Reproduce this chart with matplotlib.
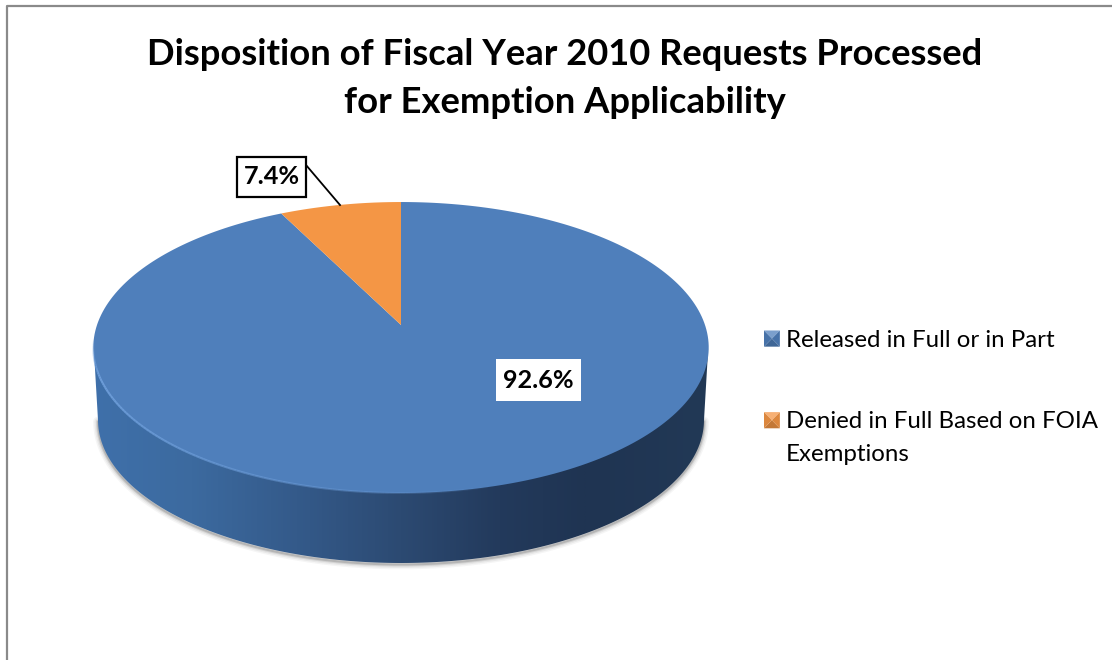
import numpy as np
import matplotlib
matplotlib.use("Agg")
import matplotlib.pyplot as plt
from matplotlib.colors import LinearSegmentedColormap
from matplotlib.collections import LineCollection
from matplotlib.legend_handler import HandlerBase
from matplotlib.patches import Patch, Polygon, Rectangle
from matplotlib.path import Path
from matplotlib.transforms import Affine2D, Transform

TITLE = "Disposition of Fiscal Year 2010 Requests Processed\nfor Exemption Applicability"
CATEGORIES = ["Released in Full or in Part", "Denied in Full Based on FOIA\nExemptions"]
VALUES = [92.6, 7.4]
COLORS = ["#4f7fbb", "#f49645"]

plt.rcParams["font.family"] = ["Lato", "DejaVu Sans"]

W, H = 1112, 660
CX, CY = 401.0, 325.0
K, A, B = 0.1547, 142.0, 304.0


class Perspective(Transform):
    """Tilted-disc projection: maps the unit pie circle to the drawn ellipse."""
    input_dims = output_dims = 2

    def transform_non_affine(self, values):
        v = np.asarray(values, float)
        d = 1 + K * v[:, 1]
        return np.column_stack((CX + B * v[:, 0] / d, CY - A * v[:, 1] / d))

    def transform_path_non_affine(self, path):
        # flatten the curves first so that the outline stays smooth after projection
        polys = path.to_polygons(transform=Affine2D().scale(1000), closed_only=True)
        flat = np.vstack(polys) / 1000.0
        return Path(self.transform_non_affine(flat), closed=True)


fig = plt.figure(figsize=(W / 100, H / 100), dpi=100, facecolor="white")
ax = fig.add_axes([0, 0, 1, 1])

# outer chart frame
ax.plot([7, 7, W], [H, 5.5, 5.5], color="#8a8a8a", lw=1.6, zorder=1)

# side wall: lower half of a slightly smaller, lower ellipse
t = np.linspace(0, np.pi, 200)
wall_x = 401 - 303 * np.cos(t)
wall_y = 420 + 143 * np.sin(t)
wall_pts = np.vstack(([[94, 352]], np.column_stack((wall_x, wall_y)), [[708, 352]]))

for lw, alpha in [(7, 0.05), (5, 0.07), (3, 0.12), (1.5, 0.2)]:
    ax.plot(wall_x, wall_y + 1.5, color="#404040", alpha=alpha, lw=lw, zorder=2,
            solid_capstyle="round")

wall_cmap = LinearSegmentedColormap.from_list(
    "wall",
    [(0.00, "#3f70aa"), (0.16, "#3c6a9f"), (0.33, "#345a8a"), (0.50, "#2c4a72"),
     (0.66, "#233a5c"), (0.80, "#1f3452"), (1.00, "#223956")],
)
grad = ax.imshow(np.linspace(0, 1, 512)[None, :], cmap=wall_cmap, aspect="auto",
                 extent=(93, 709, 570, 340), zorder=3, interpolation="bilinear")
clip = Polygon(wall_pts, closed=True, transform=ax.transData, facecolor="none", edgecolor="none")
ax.add_patch(clip)
grad.set_clip_path(clip)

# top face
wedges, _ = ax.pie(VALUES, colors=COLORS, startangle=90, counterclock=False, radius=1.0,
                   wedgeprops={"linewidth": 0})
proj = Perspective()
for w in wedges:
    w.set_transform(proj + ax.transData)
    w.set_zorder(4)

# light rim along the front-left of the top face, fading at both ends
a = np.radians(np.linspace(185, 285, 120))
rim = proj.transform(np.column_stack((np.cos(a), np.sin(a))))
segs = np.stack((rim[:-1], rim[1:]), axis=1)
s = np.linspace(0, 1, len(segs))
fade = np.minimum(s / 0.15, 1) * (1 - s) ** 0.7
rim_colors = np.zeros((len(segs), 4))
rim_colors[:, :3] = matplotlib.colors.to_rgb("#72a2de")
rim_colors[:, 3] = fade
ax.add_collection(LineCollection(segs, colors=rim_colors, linewidths=1.5, zorder=5))

ax.set_xlim(0, W)
ax.set_ylim(H, 0)
ax.set_aspect("auto")
ax.axis("off")

# data labels
ax.add_patch(Rectangle((496, 359), 85, 42, facecolor="white", edgecolor="none", zorder=6))
ax.text(538.5, 380, f"{VALUES[0]}%", ha="center", va="center", fontsize=18.2,
        fontweight="bold", color="black", zorder=7)
ax.plot([306, 340], [165, 205], color="black", lw=1.3, zorder=6)
ax.add_patch(Rectangle((237, 157), 69, 40, facecolor="white", edgecolor="black", lw=1.6, zorder=6))
ax.text(271.5, 177, f"{VALUES[1]}%", ha="center", va="center", fontsize=18.2,
        fontweight="bold", color="black", zorder=7)

# title
ax.text(565, 78.5, TITLE, ha="center", va="center", fontsize=26.2, fontweight="bold",
        color="black", linespacing=1.52, zorder=7)


class BevelHandler(HandlerBase):
    def create_artists(self, legend, orig, xd, yd, width, height, fontsize, trans):
        # a wrapped label keeps its marker beside the first line
        shift = 13.0 * orig.get_label().count("\n")
        x0, y0 = -xd, -yd + shift
        x1, y1 = x0 + width, y0 + height
        mx, my = (x0 + x1) / 2, (y0 + y1) / 2
        c = np.array(matplotlib.colors.to_rgb(orig.get_facecolor()[:3]))
        tints = [np.clip(c * 0.75 + 0.25, 0, 1), np.clip(c * 0.8, 0, 1),
                 np.clip(c * 0.9, 0, 1), np.clip(c * 0.9, 0, 1)]
        corners = [((x0, y1), (x1, y1)), ((x0, y0), (x1, y0)),
                   ((x0, y0), (x0, y1)), ((x1, y0), (x1, y1))]
        return [Polygon([p, q, (mx, my)], closed=True, facecolor=col, edgecolor="none",
                        transform=trans) for (p, q), col in zip(corners, tints)]


handles = [Patch(facecolor=c, label=l) for c, l in zip(COLORS, CATEGORIES)]
leg = fig.legend(handles=handles, loc="upper left", bbox_to_anchor=(764 / W, 1 - 330 / H),
                 bbox_transform=fig.transFigure, frameon=False, fontsize=17.3,
                 handler_map={Patch: BevelHandler()}, handlelength=0.66, handleheight=0.66,
                 handletextpad=0.25, labelspacing=2.5, borderpad=0, borderaxespad=0)
leg.get_texts()[1].set_linespacing(1.72)

fig.savefig("out.png", dpi=100, facecolor="white")
